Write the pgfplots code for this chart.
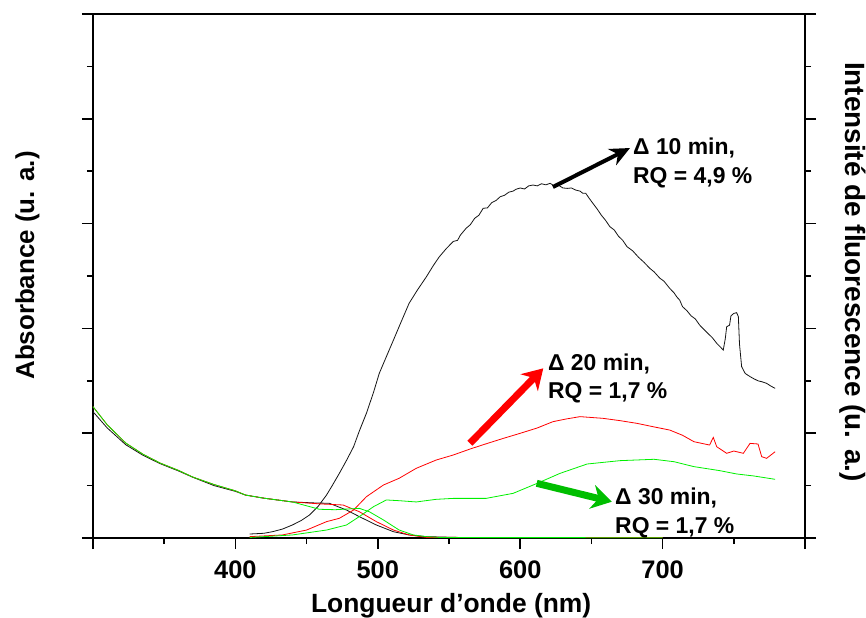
\documentclass[border=0pt]{standalone}
\usepackage{fontspec}
\setmainfont{Liberation Sans}
\usepackage{pgfplots}
\pgfplotsset{compat=1.18}
\usetikzlibrary{arrows.meta}
\definecolor{myred}{RGB}{255,0,0}
\definecolor{mygreen}{RGB}{0,240,0}
\definecolor{arrgreen}{RGB}{0,190,0}
\definecolor{myblack}{RGB}{20,20,20}
\begin{document}
\begin{tikzpicture}
\begin{axis}[name=ax, scale only axis, width=712bp, height=524bp,
 xmin=300, xmax=800, ymin=0, ymax=5,
 xtick={300,400,500,600,700,800},
 xticklabels={,\textbf{400},\textbf{500},\textbf{600},\textbf{700},},
 minor x tick num=1,
 ytick={0,1,2,3,4,5}, yticklabels={}, minor y tick num=1,
 xtick pos=bottom, ytick pos=both, tick align=outside,
 major tick length=11bp, minor tick length=6bp,
 axis line style={line width=1.6bp},
 every tick/.style={line width=1.6bp, black},
 xticklabel style={font=\fontsize{25.5}{25.5}\selectfont\bfseries, yshift=-8bp},
 /pgf/number format/assume math mode=true,
 xlabel={Longueur d’onde (nm)},
 xlabel style={at={(axis description cs:0.503,-0.143)}, anchor=base, font=\fontsize{26.5}{26.5}\selectfont\bfseries, inner sep=0pt},
 ylabel={Absorbance (u. a.)},
 ylabel style={at={(axis description cs:-0.092,0.52)}, anchor=center, font=\fontsize{26}{26}\selectfont\bfseries, inner sep=0pt},
 clip=false,
 every axis plot/.append style={line width=0.8bp},
]
% --- black (10 min) absorbance
\addplot[myblack] coordinates {
(300,1.205)(310,1.05)(323,0.89)(335,0.79)(347,0.71)(360,0.64)(370,0.58)(385,0.50)(400,0.445)(407,0.41)(420,0.38)(440,0.344)(455,0.335)(466,0.331)(478,0.267)(487,0.204)(499,0.124)(511,0.06)(522,0.029)(534,0.013)(560,0.004)(700,0.004)};
% --- black (10 min) fluorescence
\addplot[myblack] coordinates {
(410,0.038)(420,0.045)(426,0.06)(433,0.085)(440,0.124)(446,0.165)(452,0.219)(458,0.30)(464,0.41)(468,0.50)(473,0.617)(478,0.74)(483,0.871)(487,1.02)(492,1.19)(497,1.39)(501,1.57)(506,1.73)(511,1.889)(516,2.05)(522,2.24)(528,2.37)(534,2.49)(539,2.60)(543,2.68)(548,2.76)(553,2.83)(556,2.84)(558,2.89)(562,2.955)(565,2.99)(568,3.05)(571,3.08)(574,3.146)(577,3.15)(580,3.20)(583,3.22)(586,3.257)(589,3.27)(592,3.30)(595,3.31)(597,3.327)(600,3.34)(603,3.33)(606,3.36)(609,3.368)(612,3.36)(615,3.38)(618,3.37)(621,3.384)(624,3.36)(627,3.365)(630,3.34)(633,3.336)(636,3.34)(639,3.32)(642,3.31)(644,3.289)(646,3.29)(648,3.25)(651,3.194)(654,3.14)(657,3.08)(660,3.03)(663,2.97)(666,2.94)(669,2.88)(672,2.84)(675,2.78)(679,2.74)(683,2.68)(687,2.63)(691,2.573)(694,2.54)(698,2.48)(701,2.45)(705,2.382)(708,2.34)(710,2.30)(712,2.27)(714,2.207)(717,2.17)(720,2.12)(723,2.09)(726,2.032)(729,1.99)(732,1.95)(735,1.91)(738,1.858)(740,1.83)(742.6,1.794)(744,1.90)(745,2.016)(747,2.03)(748,2.12)(750,2.143)(752,2.15)(753.2,2.112)(754,1.85)(755.5,1.635)(758,1.57)(761.4,1.54)(764,1.52)(767,1.50)(770,1.49)(773,1.476)(776,1.45)(779,1.428)};
% --- red (20 min) absorbance
\addplot[myred] coordinates {
(300,1.253)(310,1.08)(323,0.906)(335,0.80)(347,0.716)(360,0.645)(370,0.582)(385,0.51)(400,0.45)(407,0.41)(420,0.38)(440,0.344)(460,0.325)(475.6,0.315)(487,0.251)(499,0.156)(511,0.076)(522,0.029)(534,0.006)(700,0.004)};
% --- red (20 min) fluorescence
\addplot[myred] coordinates {
(410,0.013)(433,0.029)(450,0.076)(464,0.156)(473,0.188)(483,0.267)(492,0.394)(504,0.506)(515,0.57)(527,0.665)(541,0.744)(553,0.792)(565,0.85)(577,0.903)(588,0.95)(600,0.999)(612,1.05)(623,1.11)(632,1.135)(642,1.158)(650,1.15)(658,1.142)(670,1.12)(682,1.094)(694,1.06)(705,1.03)(714,0.98)(722,0.919)(733,0.887)(735.6,0.96)(738,0.871)(745,0.808)(750,0.83)(756.7,0.808)(761.4,0.903)(767,0.897)(769.6,0.776)(773,0.76)(779,0.823)};
% --- green (30 min) absorbance
\addplot[mygreen] coordinates {
(300,1.253)(310,1.08)(323,0.906)(335,0.80)(347,0.716)(360,0.645)(370,0.582)(385,0.51)(400,0.45)(407,0.41)(420,0.38)(440,0.344)(459,0.274)(470,0.27)(487,0.283)(494,0.251)(504,0.172)(515,0.076)(525,0.029)(534,0.013)(545,0.004)(700,0.003)};
% --- green (30 min) fluorescence
\addplot[mygreen] coordinates {
(410,0.005)(440,0.029)(464,0.076)(478,0.124)(487,0.204)(497,0.299)(506,0.363)(515,0.356)(527,0.344)(541,0.369)(553,0.378)(576,0.378)(595,0.426)(612,0.522)(628,0.617)(647,0.706)(670,0.738)(694,0.751)(708,0.728)(722,0.681)(740,0.643)(752,0.611)(764,0.592)(779,0.56)};
% --- annotations
\draw[line width=4bp, black, -{Stealth[length=20bp,width=18bp]}] (axis cs:623,3.349) -- (axis cs:677.1,3.721);
\draw[line width=7bp, myred, -{Stealth[length=20bp,width=24bp]}] (axis cs:564.7,0.904) -- (axis cs:616.2,1.619);
\draw[line width=7bp, arrgreen, -{Stealth[length=20bp,width=24bp]}] (axis cs:611.6,0.522) -- (axis cs:664.3,0.346);
\begin{scope}[every node/.style={inner sep=0pt, anchor=base west, font=\fontsize{23}{23}\selectfont\bfseries}]
\node at (axis cs:679.2,3.655) {Δ 10 min,};
\node at (axis cs:679.2,3.387) {RQ = 4,9 \%};
\node at (axis cs:619.5,1.603) {Δ 20 min,};
\node at (axis cs:619.5,1.333) {RQ = 1,7 \%};
\node at (axis cs:666.6,0.315) {Δ 30 min,};
\node at (axis cs:666.6,0.045) {RQ = 1,7 \%};
\end{scope}
\node[rotate=-90, inner sep=0pt, font=\fontsize{28}{28}\selectfont\bfseries] at (axis description cs:1.067,0.508) {Intensité de fluorescence (u. a.)};
\end{axis}
\pgfresetboundingbox
\path[use as bounding box] ([shift={(-93bp,-80bp)}]ax.south west) rectangle ([shift={(61bp,14bp)}]ax.north east);
\end{tikzpicture}
\end{document}
